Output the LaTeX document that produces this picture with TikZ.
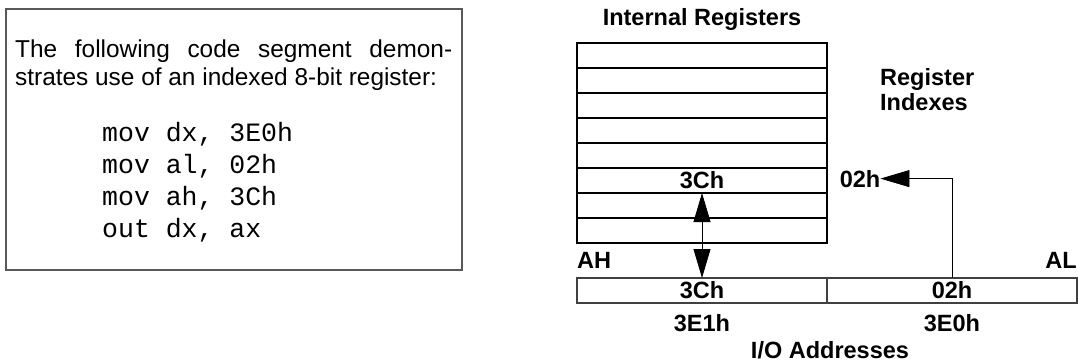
\documentclass[tikz,border=0pt]{standalone}
\usepackage{fontspec}
\setmainfont{Liberation Sans}
\setmonofont{Liberation Mono}
\usetikzlibrary{arrows.meta}
\usetikzlibrary{positioning}

\tikzset{
  regrow/.style={draw=black, line width=1.5pt, minimum width=250pt,
    minimum height=25pt, inner sep=0pt, outer sep=0pt,
    font=\bfseries\fontsize{23.5}{25}\selectfont},
  iobox/.style={draw=black!75, line width=1.2pt, minimum width=250pt,
    minimum height=25pt, inner sep=0pt, outer sep=0pt,
    font=\bfseries\fontsize{23.5}{25}\selectfont},
  lbl/.style={inner sep=0pt, font=\bfseries\fontsize{23.5}{25}\selectfont},
  txt/.style={inner sep=0pt, font=\fontsize{24.4}{28}\selectfont},
  codeline/.style={inner sep=0pt, anchor=base west,
    font=\ttfamily\fontsize{26.5}{31.5}\selectfont},
  codebox/.style={draw=black!65, line width=1.2pt, minimum width=456pt,
    minimum height=261pt, inner sep=0pt},
  bigtip/.tip={Triangle[length=29pt,width=17pt]},
}

\begin{document}
\begin{tikzpicture}[x=1pt, y=1pt]
  \useasboundingbox (0,0) rectangle (1078,362);

  % code segment
  \node[codebox] (box) at (234,222.5) {};
  \node[txt, anchor=base west] (intro1) at (15,304)
    {\makebox[437pt][s]{The following code segment demon-}};
  \node[txt, anchor=base west] (intro2) at (15,276)
    {strates use of an indexed 8-bit register:};
  \node[codeline] (c1) at (102,220) {mov dx, 3E0h};
  \node[codeline] (c2) at (102,189) {mov al, 02h};
  \node[codeline] (c3) at (102,157) {mov ah, 3Ch};
  \node[codeline] (c4) at (102,125) {out dx, ax};

  % internal registers
  \node[regrow] (r1) at (702,306.5) {};
  \node[regrow, below=0pt of r1] (r2) {};
  \node[regrow, below=0pt of r2] (r3) {};
  \node[regrow, below=0pt of r3] (r4) {};
  \node[regrow, below=0pt of r4] (r5) {};
  \node[regrow, below=0pt of r5] (r6) {3Ch};
  \node[regrow, below=0pt of r6] (r7) {};
  \node[regrow, below=0pt of r7] (r8) {};
  \node[lbl, anchor=base] (title) at (702,336) {Internal Registers};
  \node[lbl, anchor=base west] (idxtitle) at (880,276) {Register};
  \node[lbl, anchor=base west] (idxtitle2) at (880,251) {Indexes};
  \node[lbl, anchor=base] (idx) at (860,175) {02h};

  % I/O addresses
  \node[iobox] (ah) at (702,71.5) {3Ch};
  \node[iobox, right=0pt of ah] (al) {02h};
  \node[lbl, anchor=base west] (ahlbl) at (577,94) {AH};
  \node[lbl, anchor=base east] (allbl) at (1077,94) {AL};
  \node[lbl, anchor=base] (addrhi) at (702,31) {3E1h};
  \node[lbl, anchor=base] (addrlo) at (952,31) {3E0h};
  \node[lbl, anchor=base] (iotitle) at (830,4) {I/O Addresses};

  \draw[line width=0.8pt, bigtip-bigtip] (r6.south) -- (ah.north);
  \draw[line width=0.8pt, -bigtip] (al.north) |- (idx.east);
\end{tikzpicture}
\end{document}
